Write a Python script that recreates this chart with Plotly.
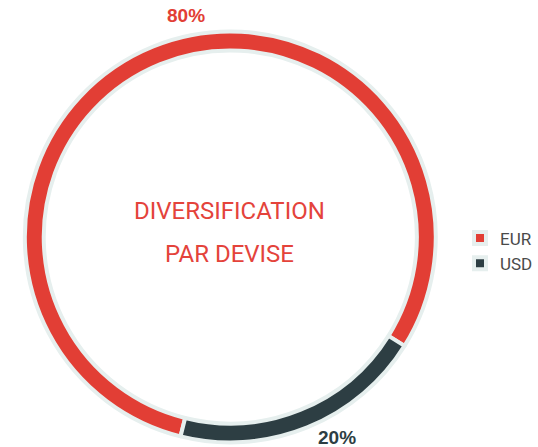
import plotly.graph_objects as go

# currency split
devises = ["EUR", "USD"]
parts = [80, 20]
couleurs = ["#e23e35", "#2d3e43"]
couleurs_txt = ["#e23e35", "#2d3e43"]

titre_lignes = ["DIVERSIFICATION", "PAR DEVISE"]

fig = go.Figure()

fig.add_trace(go.Pie(
    labels=devises,
    values=parts,
    hole=0.908,
    sort=False,
    direction="clockwise",
    rotation=194,
    textinfo="none",
    hoverinfo="label+percent",
    marker=dict(colors=couleurs, line=dict(color="#e6efee", width=4)),
    domain=dict(x=[0.0465, 0.816], y=[0.0067, 0.933]),
))

# percentage labels outside the ring
pos_labels = [(0.349, 0.966), (0.632, 0.022)]
for (px_, py_), v, c in zip(pos_labels, parts, couleurs_txt):
    fig.add_annotation(
        x=px_, y=py_, xref="paper", yref="paper",
        text="<b>%d%%</b>" % v, showarrow=False,
        font=dict(family="Liberation Sans", size=19, color=c),
        xanchor="center", yanchor="middle",
    )

# centre title
for ligne, yy in zip(titre_lignes, [0.528, 0.431]):
    fig.add_annotation(
        x=0.43, y=yy, xref="paper", yref="paper",
        text=ligne, showarrow=False,
        font=dict(family="Roboto", size=24, color="#e4433b"),
        xanchor="center", yanchor="middle",
    )

fig.update_layout(
    width=538, height=447,
    margin=dict(l=0, r=0, t=0, b=0),
    paper_bgcolor="white",
    plot_bgcolor="white",
    showlegend=True,
    legend=dict(
        x=0.862, y=0.4385, xanchor="left", yanchor="middle",
        font=dict(family="Roboto", size=17, color="#4a4a4a"),
        bgcolor="rgba(0,0,0,0)",
    ),
)

# the page has a default body margin of 8px, drop it so the figure sits at 0,0
fig.write_html("out.html", config={"displayModeBar": False},
               post_script="document.body.style.margin='0';")
